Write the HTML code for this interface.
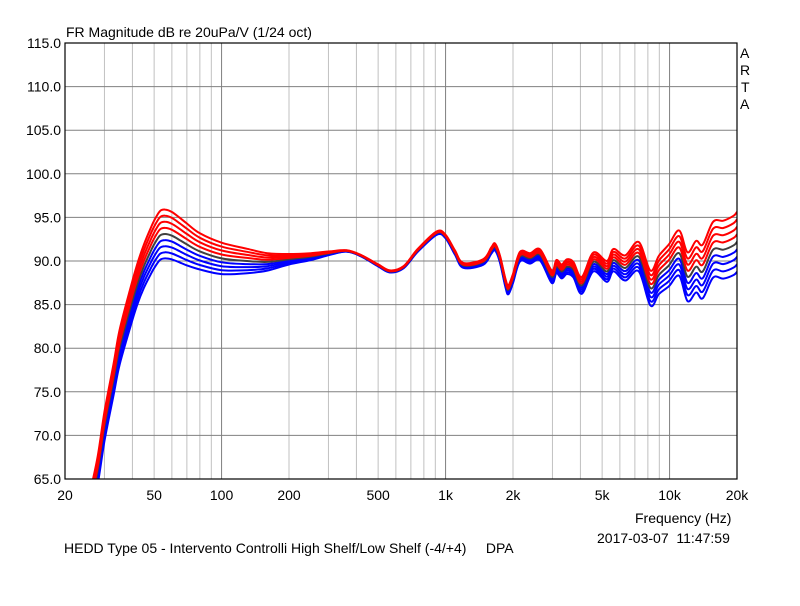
<!DOCTYPE html>
<html><head><meta charset="utf-8"><style>
body{margin:0;background:#fff;width:800px;height:601px;overflow:hidden}
svg text{font-family:"Liberation Sans",Arial,sans-serif;font-size:14px;fill:#000;white-space:pre}
</style></head><body>
<svg id="chart" width="800" height="601" viewBox="0 0 800 601" xmlns="http://www.w3.org/2000/svg" xml:space="preserve">
<rect width="800" height="601" fill="#fff"/>
<g id="grid"></g>
<g id="yticks"></g>
<g id="xticks"></g>
<defs><clipPath id="pc"><rect x="65" y="43" width="672" height="436"/></clipPath></defs>
<g id="series" clip-path="url(#pc)"></g>
<rect x="65" y="43" width="672" height="436" fill="none" stroke="#000" stroke-width="1.2"/>
<text x="66" y="37">FR Magnitude dB re 20uPa/V (1/24 oct)</text>
<text x="740" y="58">A</text>
<text x="740" y="75">R</text>
<text x="741" y="92">T</text>
<text x="740" y="109">A</text>
<text x="635" y="523">Frequency (Hz)</text>
<text x="597" y="543">2017-03-07  11:47:59</text>
<text x="64" y="553">HEDD Type 05 - Intervento Controlli High Shelf/Low Shelf (-4/+4)     DPA</text>
</svg>
<script>
const freqs=[25,26,28,30,33,35,39,42,45,48,50,53,56,60,65,70,80,100,130,160,200,250,304,362,420,500,565,650,750,913,1000,1100,1200,1474,1600,1664,1750,1850,1907,2000,2149,2384,2641,2978,3124,3300,3477,3720,4054,4571,5245,5618,6340,7280,8210,8960,9930,11040,12020,13130,14060,15640,17380,19340,20000];
const baseDb=[59,62,66,71,76.5,80,84.5,87.3,89.4,91.0,91.9,92.9,93.1,92.9,92.4,91.9,91.1,90.3,90.0,89.9,90.2,90.5,90.9,91.15,90.6,89.5,88.8,89.3,91.2,93.2,92.8,91.0,89.5,89.9,91.2,91.6,90.2,87.5,86.7,88,90.5,90.3,90.7,88.2,89.35,88.8,89.35,89.0,87.2,89.9,88.8,90.1,89.2,90.5,86.9,88.4,89.5,90.9,88.2,89.35,88.8,91.3,91.3,91.8,92.2];
const spreadDb=[0.4,0.4,0.4,0.42,0.45,0.5,0.55,0.58,0.62,0.66,0.68,0.7,0.7,0.68,0.64,0.6,0.52,0.45,0.35,0.25,0.15,0.1,0.05,0.02,0.02,0.03,0.03,0.03,0.04,0.05,0.05,0.06,0.07,0.08,0.09,0.1,0.1,0.12,0.13,0.13,0.14,0.15,0.16,0.18,0.19,0.2,0.21,0.22,0.24,0.27,0.3,0.32,0.36,0.42,0.5,0.55,0.6,0.65,0.7,0.74,0.77,0.8,0.83,0.85,0.86];
const gains=[-4,-3,-2,-1,0,1,2,3,4];
const yTicks=[65,70,75,80,85,90,95,100,105,110,115];
const xTickVals=[20,50,100,200,500,1000,2000,5000,10000,20000];
const xTickLabels=["20","50","100","200","500","1k","2k","5k","10k","20k"];
const X0=65,X1=737,Y0=43,Y1=479;
const xs=f=>X0+(X1-X0)*Math.log10(f/20)/3;
const ys=d=>Y0+(Y1-Y0)*(115-d)/50;
const NS="http://www.w3.org/2000/svg";
const grid=document.getElementById('grid');
for(let dec=10;dec<=10000;dec*=10){for(let m=1;m<=9;m++){const f=dec*m;if(f<20||f>20000)continue;
 const l=document.createElementNS(NS,'line');const x=xs(f);
 l.setAttribute('x1',x);l.setAttribute('x2',x);l.setAttribute('y1',Y0);l.setAttribute('y2',Y1);
 l.setAttribute('stroke',m===1?'#808080':'#c0c0c0');l.setAttribute('stroke-width','1');
 
 
 grid.appendChild(l);}}
const yg=document.getElementById('yticks');
yTicks.forEach(v=>{const y=ys(v);
 const l=document.createElementNS(NS,'line');l.setAttribute('x1',X0);l.setAttribute('x2',X1);l.setAttribute('y1',y);l.setAttribute('y2',y);
 l.setAttribute('stroke','#808080');
 
 
 grid.appendChild(l);
 const t=document.createElementNS(NS,'text');t.setAttribute('x',61);t.setAttribute('y',y+5);t.setAttribute('text-anchor','end');t.textContent=v.toFixed(1);
 
 
 yg.appendChild(t);});
const xg=document.getElementById('xticks');
xTickVals.forEach((v,i)=>{const t=document.createElementNS(NS,'text');t.setAttribute('x',xs(v));t.setAttribute('y',500);t.setAttribute('text-anchor','middle');t.textContent=xTickLabels[i];
 
 
 xg.appendChild(t);});
const sg=document.getElementById('series');
gains.forEach(k=>{const p=document.createElementNS(NS,'path');
 const pts=freqs.map((f,i)=>[xs(f),ys(baseDb[i]+k*spreadDb[i])]);
 let d='M'+pts[0][0].toFixed(1)+','+pts[0][1].toFixed(1);
 for(let i=0;i<pts.length-1;i++){const p0=pts[Math.max(0,i-1)],p1=pts[i],p2=pts[i+1],p3=pts[Math.min(pts.length-1,i+2)];
  const c1=[p1[0]+(p2[0]-p0[0])/6,p1[1]+(p2[1]-p0[1])/6],c2=[p2[0]-(p3[0]-p1[0])/6,p2[1]-(p3[1]-p1[1])/6];
  d+='C'+c1[0].toFixed(1)+','+c1[1].toFixed(1)+' '+c2[0].toFixed(1)+','+c2[1].toFixed(1)+' '+p2[0].toFixed(1)+','+p2[1].toFixed(1);}
 p.setAttribute('d',d);p.setAttribute('fill','none');p.setAttribute('stroke',k>0?'#ff0000':k<0?'#0000ff':'#404040');
 p.setAttribute('stroke-width','2');p.setAttribute('stroke-linejoin','round');
 
 
 sg.appendChild(p);});
</script>
</body></html>
